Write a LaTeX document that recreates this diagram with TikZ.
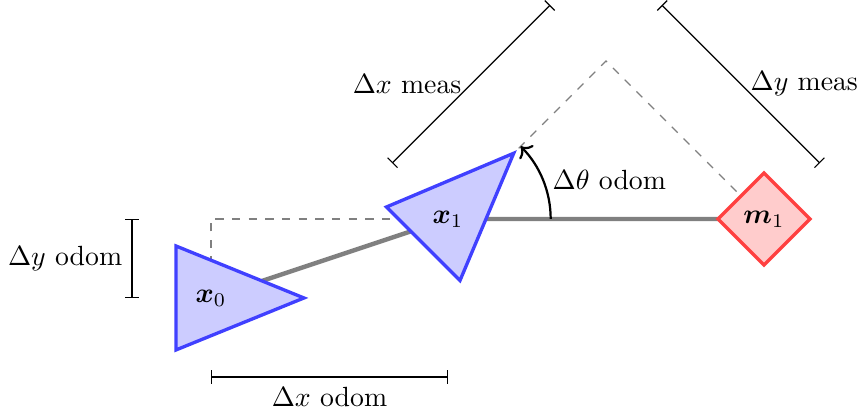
\documentclass[tikz,border=0pt]{standalone}
\usepackage{amsmath,bm}
\usetikzlibrary{arrows.meta,calc}
\tikzset{
  robot/.style={draw=blue!75, fill=blue!20, very thick, line join=miter},
  landmark/.style={draw=red!75, fill=red!20, very thick},
  odomline/.style={draw=gray, ultra thick},
  dashline/.style={draw=gray, dashed, thin},
  bracket/.style={draw=black, thin, {Bar[width=5pt]}-{Bar[width=5pt]}},
  lbl/.style={inner sep=0pt}
}
\begin{document}
\begin{tikzpicture}
\useasboundingbox (-2.671,-1.494) rectangle (8.228,3.772);
\coordinate (p0) at (0,0);
\coordinate (p1) at (3,1);
\coordinate (pm) at (7,1);
\coordinate (apex) at (5,3);
% guide lines
\draw[dashline] (p0) |- (p1);
\draw[dashline] (p1) -- (apex) -- (pm);
\draw[odomline] (p0) -- (p1) -- (pm);
% robot poses
\begin{scope}[shift={(p0)}]
  \draw[robot] (1.177,0) -- (-0.443,0.658) -- (-0.443,-0.658) -- cycle;
\end{scope}
\begin{scope}[shift={(p1)},rotate=45]
  \draw[robot] (1.177,0) -- (-0.443,0.658) -- (-0.443,-0.658) -- cycle;
\end{scope}
\draw[landmark] ($(pm)+(0.582,0)$) -- ($(pm)+(0,0.582)$) -- ($(pm)+(-0.582,0)$) -- ($(pm)+(0,-0.582)$) -- cycle;
\node[lbl] (x0) at (p0) {$\bm{x}_0$};
\node[lbl] (x1) at (p1) {$\bm{x}_1$};
\node[lbl] (m1) at (pm) {$\bm{m}_1$};
% odometry brackets
\coordinate (oyA) at ($(p0)+(-1,0)$);
\coordinate (oyB) at ($(p0)+(-1,1)$);
\draw[bracket] (oyA) -- node[left] {$\Delta y$ odom} (oyB);
\coordinate (oxA) at ($(p0)+(0,-1)$);
\coordinate (oxB) at ($(p1)+(0,-2)$);
\draw[bracket] (oxA) -- node[below] {$\Delta x$ odom} (oxB);
% measurement brackets
\coordinate (mxA) at ($(p1)+(135:1)$);
\coordinate (mxB) at ($(apex)+(135:1)$);
\draw[bracket] (mxA) -- node[left] {$\Delta x$ meas} (mxB);
\coordinate (myA) at ($(apex)+(45:1)$);
\coordinate (myB) at ($(pm)+(45:1)$);
\draw[bracket] (myA) -- node[right] {$\Delta y$ meas} (myB);
% angle
\coordinate (aA) at ($(p1)+(1.3,0)$);
\draw[thick,->] (aA) arc[start angle=0, end angle=45, radius=1.3];
\node[right] (th) at ($(p1)+(22.5:1.3)$) {$\Delta\theta$ odom};
\end{tikzpicture}
\end{document}
